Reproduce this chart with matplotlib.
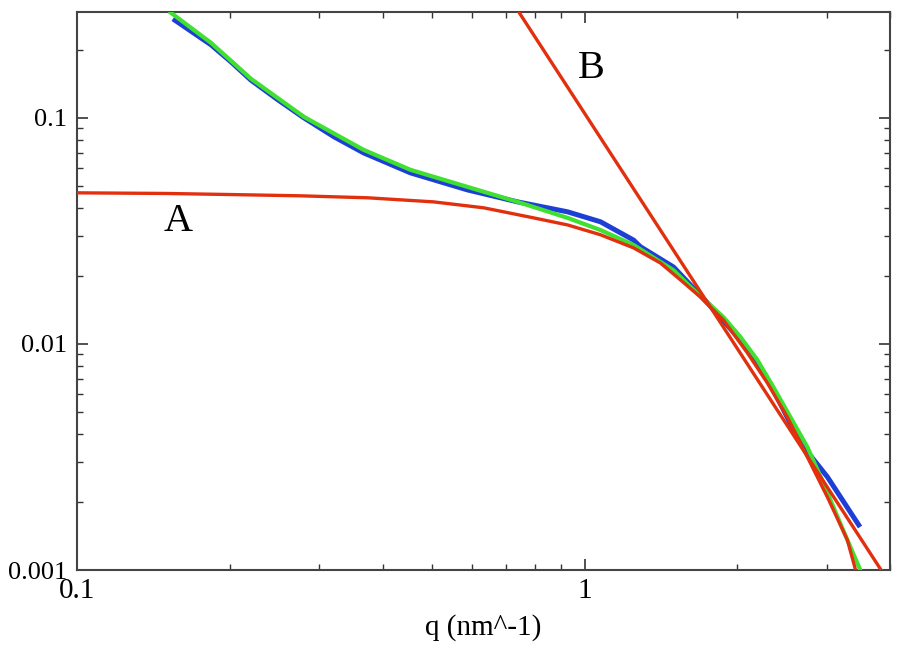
import numpy as np
import matplotlib
matplotlib.use("Agg")
import matplotlib.pyplot as plt
from matplotlib.ticker import FuncFormatter, NullFormatter, LogLocator

plt.rcParams['font.family'] = ['Liberation Serif', 'DejaVu Serif']

# measured scattering curve (blue)
q_data = [0.1545, 0.1836, 0.201, 0.220, 0.249, 0.280, 0.321, 0.367, 0.454, 0.588,
          0.738, 0.926, 1.075, 1.249, 1.289, 1.497, 1.746, 2.028, 2.19, 2.355,
          2.662, 3.01, 3.49]
I_data = [0.274, 0.2105, 0.177, 0.147, 0.120, 0.100, 0.0824, 0.070, 0.0571, 0.048,
          0.0425, 0.0384, 0.0347, 0.0288, 0.0269, 0.0219, 0.0152, 0.0104, 0.00824, 0.00625,
          0.00365, 0.00258, 0.00155]

# total fit (green)
q_fit = [0.153, 0.1836, 0.220, 0.280, 0.367, 0.454, 0.588, 0.738, 0.926, 1.075,
         1.249, 1.497, 1.617, 1.877, 2.028, 2.19, 2.355, 2.544, 2.748, 2.954,
         3.19, 3.494, 3.59]
I_fit = [0.292, 0.2148, 0.149, 0.101, 0.0722, 0.0589, 0.0495, 0.0425, 0.0361, 0.0319,
         0.0274, 0.0212, 0.0179, 0.01315, 0.01074, 0.0085, 0.00645, 0.00475, 0.0035, 0.00243,
         0.00161, 0.001, 0.000815]

# component A (red curve)
q_A = [0.1, 0.15, 0.2, 0.276, 0.374, 0.504, 0.633, 0.794, 0.926, 1.075,
       1.249, 1.411, 1.545, 1.69, 1.877, 2.094, 2.292, 2.509, 2.748, 3.01,
       3.294, 3.42, 3.47]
I_A = [0.0466, 0.0463, 0.0458, 0.0452, 0.0443, 0.0425, 0.040, 0.0361, 0.0336, 0.0304,
       0.0266, 0.0228, 0.0192, 0.01615, 0.01277, 0.00912, 0.00672, 0.00475, 0.00316, 0.0021,
       0.00136, 0.001, 0.00088]

# component B (red power law)
q_B = [0.742, 3.84]
I_B = [0.294, 0.001]

blue = '#1d3fd6'
green = '#3fe030'
red = '#e2300f'

fig = plt.figure(figsize=(9, 6.54), dpi=100)
ax = fig.add_axes([0.0856, 0.1284, 0.9034, 0.8533])

ax.plot(q_data, I_data, color=blue, lw=3.6, solid_capstyle='butt', zorder=2)
ax.plot(q_fit, I_fit, color=green, lw=3.0, zorder=3)
ax.plot(q_A, I_A, color=red, lw=2.4, zorder=4)
ax.plot(q_B, I_B, color=red, lw=2.4, zorder=4)

ax.text(0.158, 0.0347, 'A', fontsize=29, ha='center', va='center')
ax.text(1.032, 0.165, 'B', fontsize=29, ha='center', va='center')

ax.set_xscale('log')
ax.set_yscale('log')
ax.set_xlim(0.1, 4.0)
ax.set_ylim(0.001, 0.294)

fmt = FuncFormatter(lambda v, p: '%g' % v)
ax.xaxis.set_major_formatter(fmt)
ax.yaxis.set_major_formatter(fmt)
ax.xaxis.set_minor_formatter(NullFormatter())
ax.yaxis.set_minor_formatter(NullFormatter())
ax.xaxis.set_minor_locator(LogLocator(subs=np.arange(2, 10)))
ax.yaxis.set_minor_locator(LogLocator(subs=np.arange(2, 10)))

ax.tick_params(which='both', direction='in', top=True, right=True, color='#333333')
ax.tick_params(which='major', length=8, width=1.2)
ax.tick_params(which='minor', length=4, width=1.0)
ax.tick_params(axis='y', labelsize=19, pad=7)
ax.tick_params(axis='x', labelsize=21, pad=6)

for s in ax.spines.values():
    s.set_color('#444444')
    s.set_linewidth(1.5)

ax.set_xlabel('q (nm^-1)', fontsize=21, labelpad=7)

fig.savefig('out.png', dpi=100)
